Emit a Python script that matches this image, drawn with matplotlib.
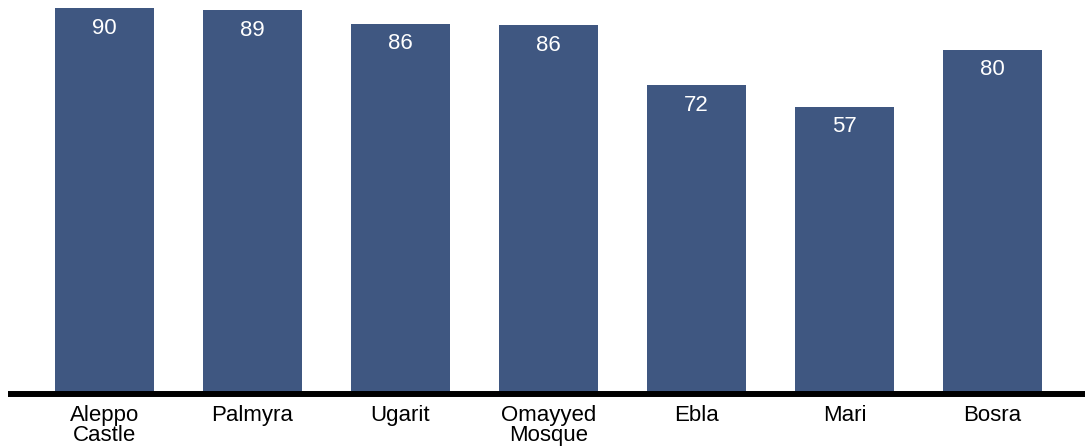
import matplotlib
matplotlib.use("Agg")
import matplotlib.pyplot as plt

categories = ["Aleppo\nCastle", "Palmyra", "Ugarit", "Omayyed\nMosque", "Ebla", "Mari", "Bosra"]
bar_heights = [90, 89.5, 86.3, 86, 72, 67, 80.3]
value_labels = ["90", "89", "86", "86", "72", "57", "80"]

plt.rcParams['font.family'] = ['Liberation Sans', 'DejaVu Sans']

W, H = 1089, 446
fig = plt.figure(figsize=(W / 100, H / 100), dpi=100)
ax = fig.add_axes([8 / W, 52 / H, 1077 / W, 394 / H])

x = list(range(len(categories)))
ax.bar(x, bar_heights, width=0.669, color='#3f5781', zorder=1)
ax.set_xlim(-0.652, 6.625)
ax.set_ylim(0, 91.9)

for xi, h, lab in zip(x, bar_heights, value_labels):
    ax.annotate(lab, (xi, h), xytext=(0, -14.3), textcoords='offset points',
                ha='center', va='center', color='white', fontsize=16)

for s in ['top', 'left', 'right']:
    ax.spines[s].set_visible(False)
sp = ax.spines['bottom']
sp.set_linewidth(4.3)
sp.set_color('black')
sp.set_zorder(3)
sp.set_capstyle('butt')
ax.set_yticks([])
ax.set_xticks(x)
ax.set_xticklabels(categories, fontsize=16, linespacing=0.95)
ax.tick_params(axis='x', length=0, pad=8)

fig.savefig('out.png', dpi=100)
